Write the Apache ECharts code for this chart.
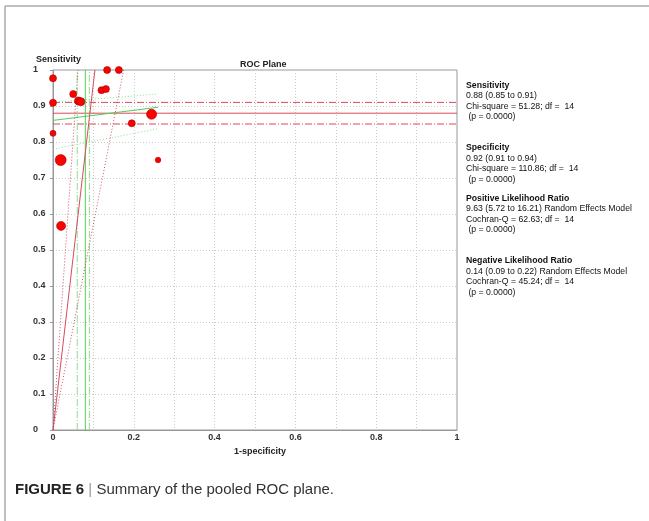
<!DOCTYPE html>
<html>
<head>
<meta charset="utf-8">
<script src="https://cdn.jsdelivr.net/npm/echarts@6/dist/echarts.min.js"></script>
<style>
html,body{margin:0;padding:0;background:#fff;}
#c{width:649px;height:521px;}
</style>
</head>
<body>
<div id="c"></div>
<script>
// Study points: 1-specificity (x) and sensitivity (y)
var fpr = [0, 0.05, 0, 0.063, 0.069, 0.134, 0.163, 0.12, 0.131, 0.244, 0.195, 0, 0.019, 0.26, 0.02];
var tpr = [0.977, 0.933, 0.909, 0.914, 0.912, 1.0, 1.0, 0.944, 0.947, 0.877, 0.852, 0.824, 0.75, 0.75, 0.567];
// relative study weight (drives marker size)
var weight = [7, 7, 7, 8, 8, 7, 7, 7, 7, 10, 7, 6, 11, 5.5, 9];

// pooled estimates [estimate, lower, upper]
var sensPool = [0.88, 0.85, 0.91];
var specPool = [0.92, 0.91, 0.94];
var plrPool = [9.63, 5.72, 16.21];
var nlrPool = [0.14, 0.09, 0.22];
var sensChi = [51.28, 14];
var specChi = [110.86, 14];
var plrQ = [62.63, 14];
var nlrQ = [45.24, 14];

var xTicks = ['0', '0.2', '0.4', '0.6', '0.8', '1'];
var yTicks = ['0', '0.1', '0.2', '0.3', '0.4', '0.5', '0.6', '0.7', '0.8', '0.9', '1'];

var points = fpr.map(function (x, i) { return [x, tpr[i], weight[i]]; });
var maxX = Math.max.apply(null, fpr);

function hLine(y) { return [[0, y], [1, y]]; }
function vLine(x) { return [[x, 0], [x, 1]]; }
function plrLine(lr) { return [[0, 0], [1 / lr, 1]]; }
function nlrLine(lr) { return [[0, 1 - lr], [maxX, 1 - lr * (1 - maxX)]]; }

var red = '#d94a5c', redLight = '#cc5066', green = '#55cc55', greenLight = '#90dd90';
var dashDot = [7, 2, 1, 2];

function lineSeries(data, color, type, width) {
  return {
    type: 'line', data: data, showSymbol: false, symbol: 'none', silent: true,
    lineStyle: { color: color, width: width || 1, type: type }, z: 2, animation: false
  };
}

var font = '"Liberation Sans", Arial, sans-serif';
function fmt(v) { return v.toFixed(2); }
function block(title, lines, top) {
  return {
    type: 'text', left: 466, top: top,
    style: {
      text: '{b|' + title + '}\n' + lines.join('\n'),
      font: '8.7px ' + font, fill: '#111', lineHeight: 10.5,
      rich: { b: { fontWeight: 'bold', fontSize: 8.7, fontFamily: font, lineHeight: 10.5, fill: '#111' } }
    }
  };
}

var chart = echarts.init(document.getElementById('c'), null, { renderer: 'canvas' });
chart.setOption({
  animation: false,
  backgroundColor: '#fff',
  title: {
    text: 'ROC Plane', left: 235, top: 55,
    textStyle: { fontSize: 9, fontWeight: 'bold', fontFamily: font, color: '#222' }
  },
  grid: { left: 53, right: 192, top: 70, bottom: 91, show: true, borderColor: '#999', borderWidth: 1 },
  xAxis: {
    type: 'value', min: 0, max: 1, interval: 0.1,
    name: '1-specificity', nameLocation: 'middle', nameGap: 10,
    nameTextStyle: { fontSize: 9, fontWeight: 'bold', fontFamily: font, color: '#222', padding: [0, 0, 0, 10] },
    axisLine: { show: true, lineStyle: { color: '#999' } },
    axisTick: { show: false },
    axisLabel: {
      fontSize: 9, fontWeight: 'bold', fontFamily: font, color: '#333', margin: 3,
      formatter: function (v) { var r = Math.round(v * 10); return r % 2 === 0 ? xTicks[r / 2] : ''; }
    },
    splitLine: { show: true, lineStyle: { color: '#ccc', type: [1, 2] } }
  },
  yAxis: {
    type: 'value', min: 0, max: 1, interval: 0.1,
    name: 'Sensitivity', nameLocation: 'end', nameGap: 6,
    nameTextStyle: { fontSize: 9, fontWeight: 'bold', fontFamily: font, color: '#222', padding: [0, 0, 0, 11] },
    axisLine: { show: true, lineStyle: { color: '#999' } },
    axisTick: { show: true, length: 3, lineStyle: { color: '#999' } },
    axisLabel: {
      fontSize: 9, fontWeight: 'bold', fontFamily: font, color: '#333', margin: 20, align: 'left',
      formatter: function (v) { return yTicks[Math.round(v * 10)]; }
    },
    splitLine: { show: true, lineStyle: { color: '#ccc', type: [1, 2] } }
  },
  series: [
    lineSeries(hLine(sensPool[0]), red, 'solid'),
    lineSeries(hLine(sensPool[1]), red, dashDot),
    lineSeries(hLine(sensPool[2]), red, dashDot),
    lineSeries(vLine(1 - specPool[0]), green, 'solid'),
    lineSeries(vLine(1 - specPool[1]), greenLight, dashDot),
    lineSeries(vLine(1 - specPool[2]), greenLight, dashDot),
    lineSeries(plrLine(plrPool[0]), red, 'solid'),
    lineSeries(plrLine(plrPool[1]), redLight, [1, 2]),
    lineSeries(plrLine(plrPool[2]), redLight, [1, 2]),
    lineSeries(nlrLine(nlrPool[0]), green, 'solid'),
    lineSeries(nlrLine(nlrPool[1]), greenLight, [1, 2]),
    lineSeries(nlrLine(nlrPool[2]), greenLight, [1, 2]),
    {
      type: 'scatter', data: points, z: 5,
      symbolSize: function (d) { return d[2]; },
      itemStyle: { color: '#ff0000', borderColor: '#a00000', borderWidth: 0.6, opacity: 1 }
    }
  ],
  graphic: [
    { type: 'line', shape: { x1: 5, y1: 6, x2: 649, y2: 6 }, style: { stroke: '#aaa', lineWidth: 1.5 } },
    { type: 'line', shape: { x1: 5, y1: 6, x2: 5, y2: 521 }, style: { stroke: '#aaa', lineWidth: 1.5 } },
    block('Sensitivity', [
      fmt(sensPool[0]) + ' (' + fmt(sensPool[1]) + ' to ' + fmt(sensPool[2]) + ')',
      'Chi-square = ' + fmt(sensChi[0]) + '; df =  ' + sensChi[1],
      ' (p = 0.0000)'], 80),
    block('Specificity', [
      fmt(specPool[0]) + ' (' + fmt(specPool[1]) + ' to ' + fmt(specPool[2]) + ')',
      'Chi-square = ' + fmt(specChi[0]) + '; df =  ' + specChi[1],
      ' (p = 0.0000)'], 142.5),
    block('Positive Likelihood Ratio', [
      fmt(plrPool[0]) + ' (' + fmt(plrPool[1]) + ' to ' + fmt(plrPool[2]) + ') Random Effects Model',
      'Cochran-Q = ' + fmt(plrQ[0]) + '; df =  ' + plrQ[1],
      ' (p = 0.0000)'], 193),
    block('Negative Likelihood Ratio', [
      fmt(nlrPool[0]) + ' (' + fmt(nlrPool[1]) + ' to ' + fmt(nlrPool[2]) + ') Random Effects Model',
      'Cochran-Q = ' + fmt(nlrQ[0]) + '; df =  ' + nlrQ[1],
      ' (p = 0.0000)'], 255.5),
    {
      type: 'text', left: 15, top: 482,
      style: {
        text: '{b|FIGURE 6}{s| | }{n|Summary of the pooled ROC plane.}',
        rich: {
          b: { fontSize: 15, fontWeight: 'bold', fontFamily: font, fill: '#222' },
          s: { fontSize: 15, fontFamily: font, fill: '#999' },
          n: { fontSize: 15, fontFamily: font, fill: '#333' }
        }
      }
    }
  ]
});
</script>
</body>
</html>
